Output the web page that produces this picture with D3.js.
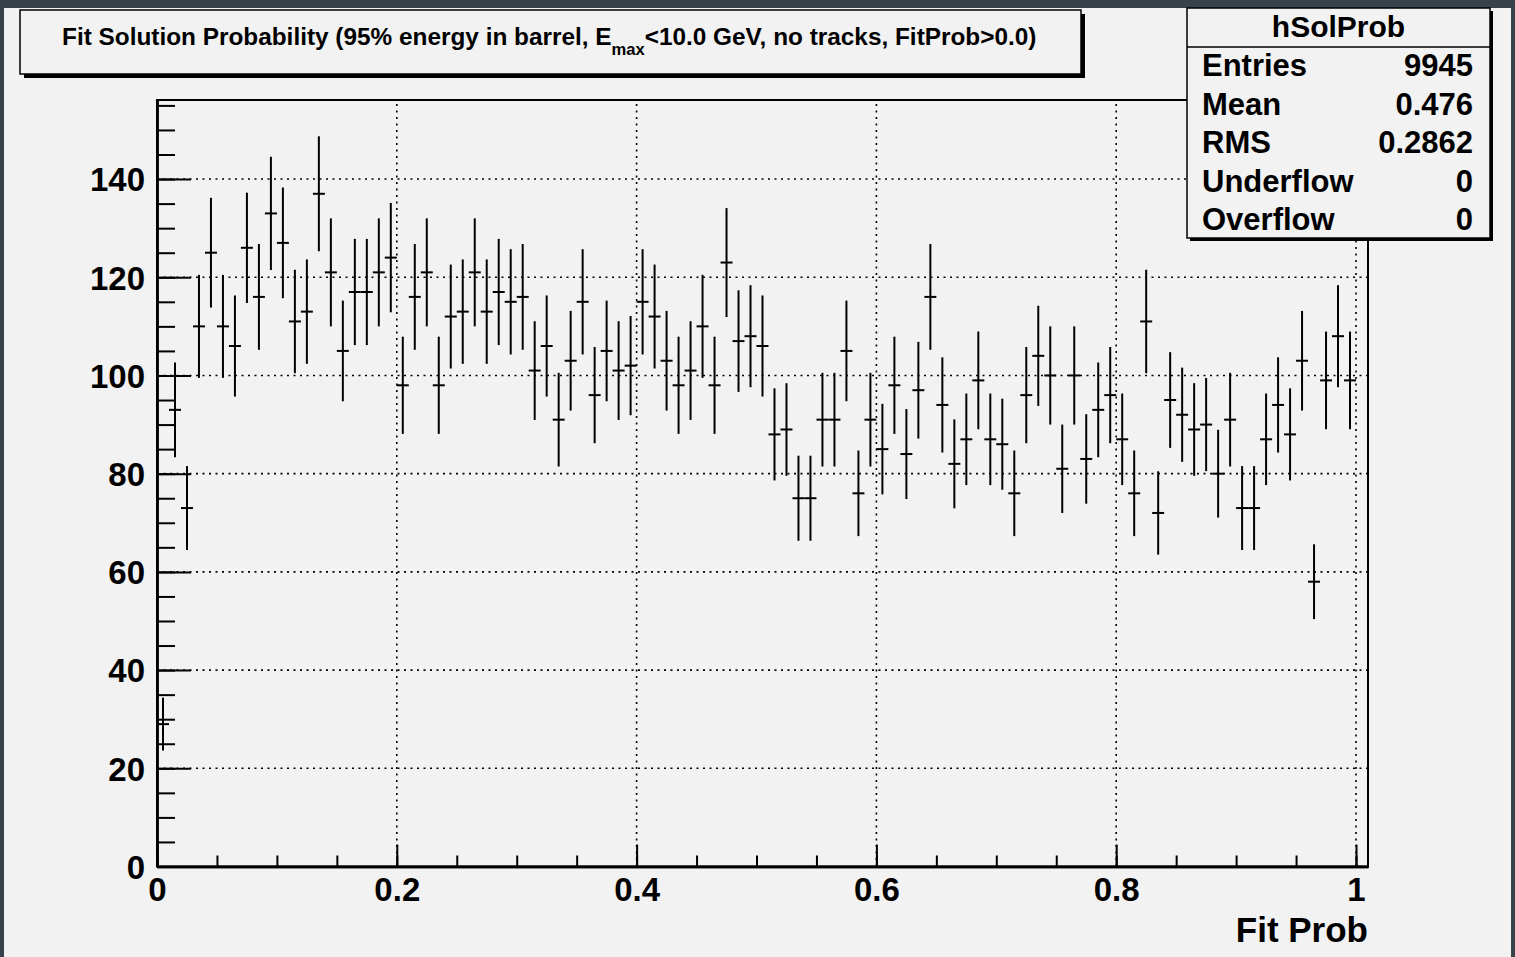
<!DOCTYPE html>
<html>
<head>
<meta charset="utf-8">
<script src="https://cdn.jsdelivr.net/npm/d3@7"></script>
<style>
html, body { margin: 0; padding: 0; background: #37424a; overflow: hidden; }
svg { display: block; }
text { font-family: "Liberation Sans", Arial, Helvetica, sans-serif; font-weight: bold; fill: #000; }
</style>
</head>
<body>
<svg id="chart"></svg>
<script>
// bin contents of hSolProb, 100 bins of width 0.01 from 0 to 1
const binCounts = [
    29, 93, 73, 110, 125, 110, 106, 126, 116, 133,
    127, 111, 113, 137, 121, 105, 117, 117, 121, 124,
    98, 116, 121, 98, 112, 113, 121, 113, 117, 115,
    116, 101, 106, 91, 103, 115, 96, 105, 101, 102,
    115, 112, 103, 98, 101, 110, 98, 123, 107, 108,
    106, 88, 89, 75, 75, 91, 91, 105, 76, 91,
    85, 98, 84, 97, 116, 94, 82, 87, 99, 87,
    86, 76, 96, 104, 100, 81, 100, 83, 93, 96,
    87, 76, 111, 72, 95, 92, 89, 90, 80, 91,
    73, 73, 87, 94, 88, 103, 58, 99, 108, 99
]
const binWidth = 0.01
const xRange = [0, 1.01]
const yRange = [0, 156.1]

const xMajorTicks = [0, 0.2, 0.4, 0.6, 0.8, 1]
const xTickLabels = ["0", "0.2", "0.4", "0.6", "0.8", "1"]
const xMinorTicks = d3.range(0, 1.001, 0.05)
const yMajorTicks = [0, 20, 40, 60, 80, 100, 120, 140]
const yMinorTicks = d3.range(0, 156, 5)

const statNames = ["Entries", "Mean", "RMS", "Underflow", "Overflow"]
const statValues = ["9945", "0.476", "0.2862", "0", "0"]
const histName = "hSolProb"
const xTitle = "Fit Prob"

const width = 1515,
    height = 957

const svg = d3.select("#chart")
    .attr("width", width)
    .attr("height", height)

// pad background
svg.append("rect")
    .attr("x", 4).attr("y", 8)
    .attr("width", 1507).attr("height", height - 8)
    .attr("fill", "#f2f2f2")

const plot = { left: 157, right: 1368, top: 100, bottom: 866.5 }

const x = d3.scaleLinear().domain(xRange).range([plot.left, plot.right])
const y = d3.scaleLinear().domain(yRange).range([plot.bottom, plot.top])

// dotted grid
const grid = svg.append("g")
    .attr("stroke", "#000")
    .attr("stroke-width", 1.6)
    .attr("stroke-dasharray", "2,4.5")

grid.selectAll(".gx")
    .data(xMajorTicks.filter(d => d > 0))
    .join("line")
    .attr("x1", d => x(d)).attr("x2", d => x(d))
    .attr("y1", plot.bottom).attr("y2", plot.top)

grid.selectAll(".gy")
    .data(yMajorTicks.filter(d => d > 0))
    .join("line")
    .attr("x1", plot.left).attr("x2", plot.right)
    .attr("y1", d => y(d)).attr("y2", d => y(d))

// frame
svg.append("rect")
    .attr("x", plot.left).attr("y", plot.top)
    .attr("width", plot.right - plot.left)
    .attr("height", plot.bottom - plot.top)
    .attr("fill", "none")
    .attr("stroke", "#000")
    .attr("stroke-width", 2)

// x axis, ticks pointing up into the frame
const xAxisMinor = d3.axisBottom(x)
    .tickValues(xMinorTicks)
    .tickSize(-11)
    .tickSizeOuter(0)
    .tickFormat("")

const xAxisMajor = d3.axisBottom(x)
    .tickValues(xMajorTicks)
    .tickSize(-22)
    .tickSizeOuter(0)
    .tickPadding(11)
    .tickFormat((d, i) => xTickLabels[i])

const yAxisMinor = d3.axisLeft(y)
    .tickValues(yMinorTicks)
    .tickSize(-18)
    .tickSizeOuter(0)
    .tickFormat("")

const yAxisMajor = d3.axisLeft(y)
    .tickValues(yMajorTicks)
    .tickSize(-34)
    .tickSizeOuter(0)
    .tickPadding(12)

const styleAxis = g => {
    g.select(".domain").attr("stroke", "#000").attr("stroke-width", 2.4)
    g.selectAll(".tick line").attr("stroke", "#000").attr("stroke-width", 2)
    g.selectAll(".tick text")
        .attr("font-family", null)
        .attr("font-size", 33)
        .attr("fill", "#000")
}

svg.append("g").attr("transform", `translate(0,${plot.bottom})`).call(xAxisMinor).call(styleAxis)
svg.append("g").attr("transform", `translate(0,${plot.bottom})`).call(xAxisMajor).call(styleAxis)
    .selectAll(".tick text").attr("dy", "0.72em")
svg.append("g").attr("transform", `translate(${plot.left},0)`).call(yAxisMinor).call(styleAxis)
svg.append("g").attr("transform", `translate(${plot.left},0)`).call(yAxisMajor).call(styleAxis)
    .selectAll(".tick text").attr("dy", "0.36em")

svg.append("text")
    .attr("x", plot.right)
    .attr("y", 942)
    .attr("text-anchor", "end")
    .attr("font-size", 35)
    .text(xTitle)

// points with sqrt(N) error bars
const bins = svg.append("g")
    .attr("stroke", "#000")
    .attr("stroke-width", 2)
    .selectAll("g")
    .data(binCounts)
    .join("g")

bins.append("line")
    .attr("x1", (d, i) => x(i * binWidth + binWidth / 2))
    .attr("x2", (d, i) => x(i * binWidth + binWidth / 2))
    .attr("y1", d => y(d - Math.sqrt(d)))
    .attr("y2", d => y(d + Math.sqrt(d)))

bins.append("line")
    .attr("x1", (d, i) => x(i * binWidth))
    .attr("x2", (d, i) => x((i + 1) * binWidth))
    .attr("y1", d => y(d))
    .attr("y2", d => y(d))

// title pave
const titleBox = { x: 20, y: 10, w: 1061, h: 64 }
svg.append("rect")
    .attr("x", titleBox.x + 4).attr("y", titleBox.y + 4)
    .attr("width", titleBox.w).attr("height", titleBox.h)
    .attr("fill", "#000")
svg.append("rect")
    .attr("x", titleBox.x).attr("y", titleBox.y)
    .attr("width", titleBox.w).attr("height", titleBox.h)
    .attr("fill", "#f2f2f2")
    .attr("stroke", "#000")
    .attr("stroke-width", 1.5)

const title = svg.append("text")
    .attr("x", 62)
    .attr("y", 45)
    .attr("font-size", 22)
title.append("tspan").text("Fit Solution Probability (95% energy in barrel, E")
title.append("tspan").attr("dy", 10).attr("font-size", 15).text("max")
title.append("tspan").attr("dy", -10).text("<10.0 GeV, no tracks, FitProb>0.0)")

const titleLen = title.node().getComputedTextLength()
const fs = 22 * 975 / titleLen
title.attr("font-size", fs)
title.selectAll("tspan").filter((d, i) => i === 1).attr("font-size", fs * 0.68)

// stats pave
const statBox = { x: 1187, y: 8, w: 303, h: 230 }
svg.append("rect")
    .attr("x", statBox.x + 3).attr("y", statBox.y + 3)
    .attr("width", statBox.w).attr("height", statBox.h)
    .attr("fill", "#000")
svg.append("rect")
    .attr("x", statBox.x).attr("y", statBox.y)
    .attr("width", statBox.w).attr("height", statBox.h)
    .attr("fill", "#f2f2f2")
    .attr("stroke", "#000")
    .attr("stroke-width", 1.5)
svg.append("line")
    .attr("x1", statBox.x).attr("x2", statBox.x + statBox.w)
    .attr("y1", 47).attr("y2", 47)
    .attr("stroke", "#000")
    .attr("stroke-width", 1.5)

svg.append("text")
    .attr("x", statBox.x + statBox.w / 2)
    .attr("y", 37)
    .attr("text-anchor", "middle")
    .attr("font-size", 30)
    .text(histName)

const rowY = d3.scalePoint().domain(statNames).range([76, 230])

svg.selectAll(".statName")
    .data(statNames)
    .join("text")
    .attr("x", 1202)
    .attr("y", d => rowY(d))
    .attr("font-size", 31)
    .text(d => d)

svg.selectAll(".statValue")
    .data(statValues)
    .join("text")
    .attr("x", 1473)
    .attr("y", (d, i) => rowY(statNames[i]))
    .attr("text-anchor", "end")
    .attr("font-size", 31)
    .text(d => d)

// right edge of the window
svg.append("rect")
    .attr("x", 1511).attr("y", 0)
    .attr("width", 4).attr("height", height)
    .attr("fill", "#37424a")
</script>
</body>
</html>
